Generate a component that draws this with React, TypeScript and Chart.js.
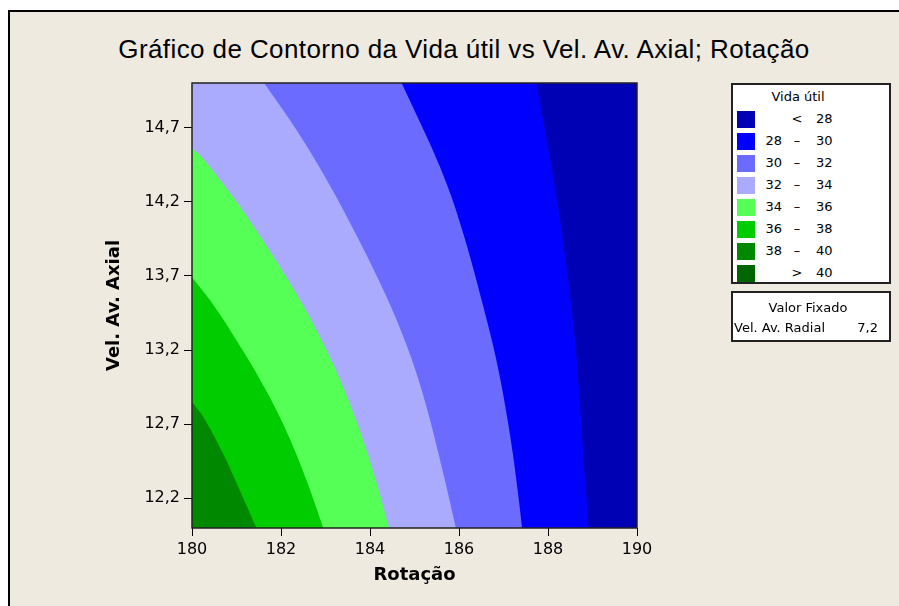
import React, { useEffect, useRef } from "react";
import { Chart, registerables } from "chart.js";

Chart.register(...registerables);

// Axis extents and tick labels
const rotacaoMin = 180;
const rotacaoMax = 190;
const axialMin = 12;
const axialMax = 15;
const rotacaoTicks = [180, 182, 184, 186, 188, 190];
const axialTicks = [12.2, 12.7, 13.2, 13.7, 14.2, 14.7];

// Contour lines of Vida útil: Rotação where each level is crossed, at the given Vel. Av. Axial
const axialFull = [15.0, 14.75, 14.5, 14.25, 14.0, 13.75, 13.5, 13.25, 13.0, 12.75, 12.5, 12.25, 12.0];
const rot28 = [187.74, 187.89, 188.04, 188.18, 188.31, 188.42, 188.52, 188.61, 188.68, 188.74, 188.79, 188.85, 188.91];
const rot30 = [184.71, 185.1, 185.48, 185.81, 186.08, 186.32, 186.54, 186.75, 186.93, 187.08, 187.21, 187.32, 187.42];
const rot32 = [181.62, 182.2, 182.73, 183.21, 183.65, 184.07, 184.46, 184.8, 185.09, 185.33, 185.54, 185.74, 185.93];

const axial34 = [14.56, 14.5, 14.25, 14.0, 13.75, 13.5, 13.25, 13.0, 12.75, 12.5, 12.25, 12.0];
const rot34 = [180.0, 180.22, 180.88, 181.46, 182.0, 182.5, 182.94, 183.33, 183.66, 183.95, 184.2, 184.43];

const axial36 = [13.69, 13.5, 13.25, 13.0, 12.75, 12.5, 12.25, 12.0];
const rot36 = [180.0, 180.49, 181.03, 181.53, 181.97, 182.34, 182.66, 182.95];

const axial38 = [12.85, 12.75, 12.5, 12.25, 12.0];
const rot38 = [180.0, 180.25, 180.7, 181.08, 181.45];

// Legend classes
const levelLow = [null, 28, 30, 32, 34, 36, 38, 40];
const levelHigh = [28, 30, 32, 34, 36, 38, 40, null];
const levelColors = ["#0000B4", "#0000FF", "#6B6BFF", "#AAAAFF", "#55FF55", "#00CC00", "#008800", "#006600"];

const fixedName = "Vel. Av. Radial";
const fixedValue = 7.2;

const chartTitle = "Gráfico de Contorno da Vida útil vs Vel. Av. Axial; Rotação";
const xTitle = "Rotação";
const yTitle = "Vel. Av. Axial";
const legendTitle = "Vida útil";
const fixedTitle = "Valor Fixado";

const fmt = (v: number) => String(v).replace(".", ",");

// Region where Vida útil lies above a contour: everything left of the curve.
// The curve is continued one step past each end so the spline keeps its direction
// at the plot border; the outer corners sit outside the clipped plot area.
function regionLeftOf(rot: number[], axial: number[]) {
  const n = rot.length - 1;
  const spanX = rotacaoMax - rotacaoMin;
  const spanY = axialMax - axialMin;
  const pts: { x: number; y: number }[] = [];
  pts.push({ x: 2 * rot[0] - rot[1], y: 2 * axial[0] - axial[1] });
  rot.forEach((r, i) => pts.push({ x: r, y: axial[i] }));
  pts.push({ x: 2 * rot[n] - rot[n - 1], y: 2 * axial[n] - axial[n - 1] });
  pts.push({ x: rotacaoMin - spanX, y: axialMin - spanY });
  pts.push({ x: rotacaoMin - spanX, y: axialMax + spanY });
  return pts;
}

const FONT = "'DejaVu Sans', Verdana, sans-serif";

function ContourChart() {
  const ref = useRef<HTMLCanvasElement | null>(null);

  useEffect(() => {
    if (!ref.current) return;
    const background = [
      { x: rotacaoMin, y: axialMax },
      { x: rotacaoMax, y: axialMax },
      { x: rotacaoMax, y: axialMin },
      { x: rotacaoMin, y: axialMin },
    ];
    const regions = [
      { pts: regionLeftOf(rot38, axial38), color: levelColors[6], tension: 0.4 },
      { pts: regionLeftOf(rot36, axial36), color: levelColors[5], tension: 0.4 },
      { pts: regionLeftOf(rot34, axial34), color: levelColors[4], tension: 0.4 },
      { pts: regionLeftOf(rot32, axialFull), color: levelColors[3], tension: 0.4 },
      { pts: regionLeftOf(rot30, axialFull), color: levelColors[2], tension: 0.4 },
      { pts: regionLeftOf(rot28, axialFull), color: levelColors[1], tension: 0.4 },
      { pts: background, color: levelColors[0], tension: 0 },
    ];

    const frame = {
      id: "plotFrame",
      afterDatasetsDraw(chart: any) {
        const { ctx, chartArea } = chart;
        ctx.save();
        ctx.strokeStyle = "#222";
        ctx.lineWidth = 1.5;
        ctx.strokeRect(chartArea.left, chartArea.top, chartArea.right - chartArea.left, chartArea.bottom - chartArea.top);
        ctx.restore();
      },
    };

    const chart = new Chart(ref.current, {
      type: "line",
      data: {
        datasets: regions.map((r) => ({
          data: r.pts,
          fill: "shape",
          backgroundColor: r.color,
          borderColor: r.color,
          borderWidth: 0,
          pointRadius: 0,
          tension: r.tension,
          capBezierPoints: false,
        })),
      },
      options: {
        animation: false,
        responsive: false,
        devicePixelRatio: 1,
        events: [],
        elements: { line: { capBezierPoints: false } },
        layout: { padding: { left: 100, right: 262, top: 83, bottom: 16 } },
        plugins: { legend: { display: false }, tooltip: { enabled: false }, title: { display: false } },
        scales: {
          x: {
            type: "linear",
            min: rotacaoMin,
            max: rotacaoMax,
            afterBuildTicks: (s: any) => {
              s.ticks = rotacaoTicks.map((v) => ({ value: v }));
            },
            afterFit: (s: any) => {
              s.height = 62;
            },
            ticks: {
              callback: (v: any) => fmt(Number(v)),
              font: { family: FONT, size: 16 },
              color: "#000",
              padding: 4,
              maxRotation: 0,
              autoSkip: false,
            },
            grid: { drawOnChartArea: false, drawTicks: true, tickLength: 8, color: "#000", lineWidth: 1 },
            border: { display: false },
            title: {
              display: true,
              text: xTitle,
              color: "#000",
              font: { family: FONT, size: 18, weight: "bold" },
              padding: { top: 4, bottom: 4 },
            },
          },
          y: {
            type: "linear",
            min: axialMin,
            max: axialMax,
            afterBuildTicks: (s: any) => {
              s.ticks = axialTicks.map((v) => ({ value: v }));
            },
            afterFit: (s: any) => {
              s.width = 92;
            },
            ticks: {
              callback: (v: any) => Number(v).toFixed(1).replace(".", ","),
              font: { family: FONT, size: 16 },
              color: "#000",
              padding: 4,
              autoSkip: false,
            },
            grid: { drawOnChartArea: false, drawTicks: true, tickLength: 8, color: "#000", lineWidth: 1 },
            border: { display: false },
            title: {
              display: true,
              text: yTitle,
              color: "#000",
              font: { family: FONT, size: 18, weight: "bold" },
              padding: { top: 4, bottom: 4 },
            },
          },
        },
      },
      plugins: [frame],
    } as any);

    return () => chart.destroy();
  }, []);

  return <canvas ref={ref} width={899} height={606} style={{ position: "absolute", left: 0, top: 0, display: "block" }} />;
}

const textBase: React.CSSProperties = {
  position: "absolute",
  fontFamily: FONT,
  fontSize: 13,
  color: "#000",
  lineHeight: "16px",
  height: 16,
  whiteSpace: "nowrap",
};

function Legend() {
  return (
    <>
      <div
        style={{
          position: "absolute",
          left: 731,
          top: 83,
          width: 160,
          height: 201,
          boxSizing: "border-box",
          border: "2px solid #222",
          background: "#fff",
        }}
      />
      <div style={{ ...textBase, left: 748, width: 100, top: 89, textAlign: "center" }}>{legendTitle}</div>
      {levelColors.map((c, i) => {
        const cy = 119 + 22 * i;
        const lo = levelLow[i];
        const hi = levelHigh[i];
        const sign = lo === null ? "<" : hi === null ? ">" : "–";
        const right = hi === null ? lo : hi;
        return (
          <React.Fragment key={i}>
            <div style={{ position: "absolute", left: 737, top: cy - 8.5, width: 18, height: 17, background: c }} />
            {lo !== null && hi !== null && (
              <div style={{ ...textBase, left: 752, width: 30, top: cy - 8, textAlign: "right" }}>{fmt(lo)}</div>
            )}
            <div style={{ ...textBase, left: 787, width: 20, top: cy - 8, textAlign: "center" }}>{sign}</div>
            <div style={{ ...textBase, left: 816, top: cy - 8 }}>{fmt(right as number)}</div>
          </React.Fragment>
        );
      })}
      <div
        style={{
          position: "absolute",
          left: 731,
          top: 291,
          width: 160,
          height: 51,
          boxSizing: "border-box",
          border: "2px solid #222",
          background: "#fff",
        }}
      />
      <div style={{ ...textBase, left: 758, width: 100, top: 300, textAlign: "center" }}>{fixedTitle}</div>
      <div style={{ ...textBase, left: 734, top: 320 }}>{fixedName}</div>
      <div style={{ ...textBase, left: 838, width: 40, top: 320, textAlign: "right" }}>{fmt(fixedValue)}</div>
    </>
  );
}

export default function App() {
  return (
    <div style={{ position: "fixed", left: 0, top: 0, width: 899, height: 606, overflow: "hidden", background: "#fff" }}>
      <div
        style={{
          position: "absolute",
          left: 8,
          top: 10,
          width: 1000,
          height: 700,
          borderLeft: "2px solid #000",
          borderTop: "2px solid #000",
          background: "#EEEAE0",
        }}
      />
      <div
        style={{
          position: "absolute",
          left: 64,
          width: 800,
          top: 35,
          textAlign: "center",
          fontFamily: "'Liberation Sans', Arial, sans-serif",
          fontSize: 26,
          letterSpacing: "0.4px",
          lineHeight: "28px",
          color: "#000",
          whiteSpace: "nowrap",
        }}
      >
        {chartTitle}
      </div>
      <ContourChart />
      <Legend />
    </div>
  );
}
